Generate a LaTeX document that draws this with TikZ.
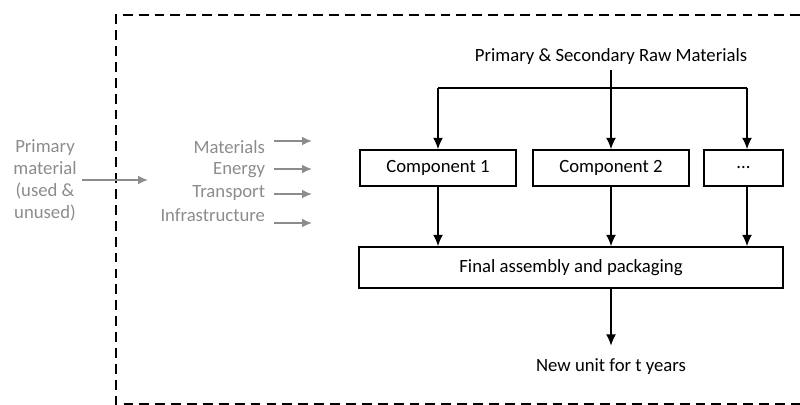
\documentclass[tikz,border=0pt]{standalone}
\usepackage{fontspec}
\setmainfont{Carlito}
\usetikzlibrary{arrows.meta}
\begin{document}
\begin{tikzpicture}[x=0.025cm,y=-0.025cm,font=\fontsize{13.3}{15.6}\selectfont,
    box/.style={draw,line width=1.2pt,inner sep=0pt},
    flow/.style={-{Latex[length=8pt,width=7pt]},line width=0.9pt},
    grey/.style={text=black!45},
    greyflow/.style={-{Latex[length=7pt,width=6pt]},line width=0.9pt,draw=black!45}]
        \useasboundingbox (0,0) rectangle (800,405);
        \draw[line width=1.7pt,dash pattern=on 7pt off 4.3pt](800,15)--(116,15)--(116,404)--(800,404);
        \node(raw) at(611,57){Primary \& Secondary Raw Materials};
        \node[box,minimum width=3.9cm,minimum height=0.9cm](c1) at(438,168){Component 1};
        \node[box,minimum width=3.9cm,minimum height=0.9cm](c2) at(611,168){Component 2};
        \node[box,minimum width=1.975cm,minimum height=0.9cm](c3) at(743.5,168){...};
        \node[box,minimum width=10.6cm,minimum height=1.025cm](final) at(571,267.5){Final assembly and packaging};
        \node(unit) at(611,367){New unit for t years};
        \coordinate(busL) at(438,88);
        \coordinate(busR) at(747,88);
        \draw[line width=0.9pt](busL)--(busR);
        \draw[flow](raw.south)--(c2.north);
        \draw[flow](busL)--(c1.north);
        \draw[flow](busR)--(busR |- c3.north);
        \draw[flow](c1.south)--(c1 |- final.north);
        \draw[flow](c2.south)--(c2 |- final.north);
        \draw[flow](busR |- c3.south)--(busR |- final.north);
        \draw[flow,shorten >=6pt](final.south -| unit)--(unit.north);
        \node[grey,align=center](prim) at(45,180){Primary\\material\\(used \&\\unused)};
        \coordinate(primin) at(148,180);
        \draw[greyflow](prim)--(primin);
        \foreach \name/\txt/\ty/\ay in {mat/Materials/147/141,ene/Energy/170/169,tra/Transport/193/194,inf/Infrastructure/215/223}{
          \node[grey,anchor=east](\name) at(270,\ty){\txt};
          \coordinate(\name in) at(312,\ay);
          \draw[greyflow,shorten <=3pt](\name in -| \name.east)--(\name in);
        }
      \end{tikzpicture}
\end{document}
